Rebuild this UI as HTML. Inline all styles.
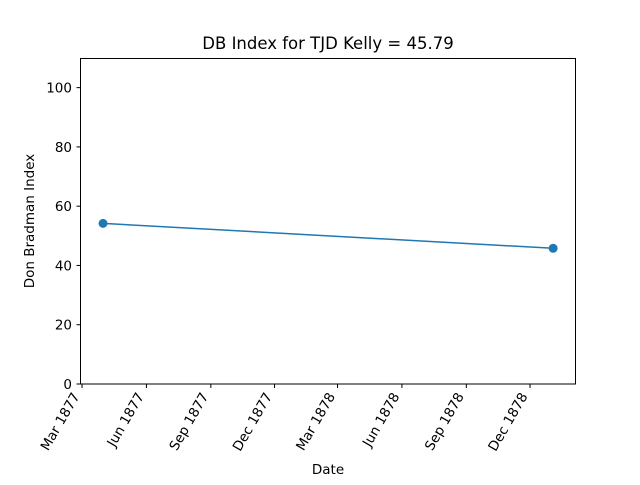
<!DOCTYPE html>
<html><head><meta charset="utf-8"><style>
body{margin:0;background:#fff;}
svg{font-family:"DejaVu Sans","Liberation Sans",sans-serif;}
</style></head><body>
<svg id="chart" width="640" height="480" xmlns="http://www.w3.org/2000/svg">
<rect width="640" height="480" fill="#fff"/>
<text x="328" y="49" font-size="16.5" text-anchor="middle">DB Index for TJD Kelly = 45.79</text>
<g id="ticks"></g>
<g id="series"></g>
<rect x="80.5" y="58.5" width="495" height="325.5" fill="none" stroke="#000" stroke-width="1"/>
<text x="328" y="474" font-size="13.5" text-anchor="middle">Date</text>
<text transform="translate(34,221) rotate(-90)" font-size="13.5" text-anchor="middle">Don Bradman Index</text>
</svg>
<script>
const dates=["1877-03-31","1879-01-03"];
const values=[54.2,45.79];
const yTicks=[0,20,40,60,80,100];
const xTickDates=["1877-03-01","1877-06-01","1877-09-01","1877-12-01","1878-03-01","1878-06-01","1878-09-01","1878-12-01"];
const xTickLabels=["Mar 1877","Jun 1877","Sep 1877","Dec 1877","Mar 1878","Jun 1878","Sep 1878","Dec 1878"];

const NS="http://www.w3.org/2000/svg";
const day=s=>Date.parse(s)/86400000;
const d0=day("1877-03-01");
const x=s=>80+(day(s)-d0+2.9)*0.7;
const y=v=>384-v*(326/110);
const tg=document.getElementById('ticks'), sg=document.getElementById('series');
function mk(tag,attrs,parent){const e=document.createElementNS(NS,tag);for(const k in attrs)e.setAttribute(k,attrs[k]);parent.appendChild(e);return e;}
yTicks.forEach(v=>{
  const yy=y(v);
  const l=mk('line',{x1:76.5,x2:80.5,y1:yy,y2:yy,stroke:'#000'},tg);
  
  
  const t=mk('text',{x:72,y:yy+5,'font-size':13.5,'text-anchor':'end'},tg);
  t.textContent=v;
  
  
});
xTickDates.forEach((d,i)=>{
  const xx=x(d);
  const l=mk('line',{x1:xx,x2:xx,y1:384,y2:388,stroke:'#000'},tg);
  
  
  const t=mk('text',{x:0,y:0,'font-size':13.5,'text-anchor':'end',transform:`translate(${xx-2},${396}) rotate(-60)`},tg);
  t.textContent=xTickLabels[i];
  
  
});
const pts=dates.map((d,i)=>x(d)+','+y(values[i])).join(' ');
const pl=mk('polyline',{points:pts,fill:'none',stroke:'#1f77b4','stroke-width':1.5},sg);


dates.forEach((d,i)=>{
  const c=mk('circle',{cx:x(d),cy:y(values[i]),r:4.5,fill:'#1f77b4'},sg);
  
  
});
</script>
</body></html>
